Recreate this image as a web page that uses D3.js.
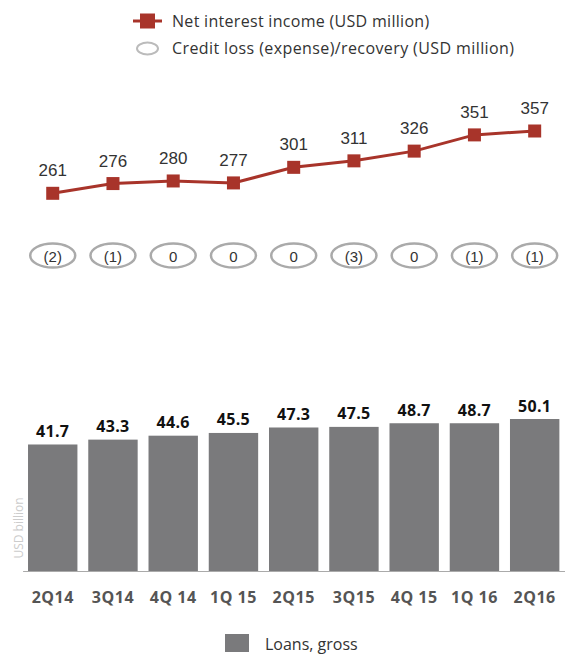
<!DOCTYPE html>
<html>
<head>
<meta charset="utf-8">
<script src="https://cdn.jsdelivr.net/npm/d3@7"></script>
<style>
  body { margin: 0; background: #fff; }
  svg { display: block; }
  text { font-family: "Open Sans", sans-serif; }
</style>
</head>
<body>
<svg id="chart" width="565" height="657"></svg>
<script>
// DATA
const quarters = ["2Q14", "3Q14", "4Q 14", "1Q 15", "2Q15", "3Q15", "4Q 15", "1Q 16", "2Q16"];
const netInterest = [261, 276, 280, 277, 301, 311, 326, 351, 357];
const creditLoss = [-2, -1, 0, 0, 0, -3, 0, -1, -1];
const loansGross = [41.7, 43.3, 44.6, 45.5, 47.3, 47.5, 48.7, 48.7, 50.1];

const svg = d3.select('#chart');
const red = '#a8342a';
const barGrey = '#7a7a7c';

// SHARED X SCALE
const x = d3.scaleBand().domain(quarters).range([22.6, 564.8])
  .paddingInner(0.18).paddingOuter(0.09);
const cx = q => x(q) + x.bandwidth() / 2;

// TOP LEGEND
const leg = svg.append('g');
leg.append('line').attr('x1', 133).attr('x2', 162).attr('y1', 21).attr('y2', 21)
  .attr('stroke', red).attr('stroke-width', 3);
leg.append('rect').attr('x', 140).attr('y', 13.5).attr('width', 15).attr('height', 15).attr('fill', red);
leg.append('text').attr('x', 172).attr('y', 27).attr('font-size', 16).attr('fill', '#333')
  .style('letter-spacing', '0.3px')
  .text('Net interest income (USD million)');
leg.append('ellipse').attr('cx', 147.5).attr('cy', 48.5).attr('rx', 10.5).attr('ry', 6)
  .attr('fill', 'none').attr('stroke', '#bbb').attr('stroke-width', 2);
leg.append('text').attr('x', 172).attr('y', 54).attr('font-size', 16).attr('fill', '#333')
  .style('letter-spacing', '0.4px')
  .text('Credit loss (expense)/recovery (USD million)');

// NET INTEREST INCOME LINE
const yLine = d3.scaleLinear().domain([261, 357]).range([193.3, 131]);
const lineData = quarters.map((q, i) => ({ q: q, v: netInterest[i] }));

const drawLine = d3.line().x(d => cx(d.q)).y(d => yLine(d.v));
svg.append('path').attr('d', drawLine(lineData)).attr('fill', 'none')
  .attr('stroke', red).attr('stroke-width', 3);

svg.selectAll('rect.marker').data(lineData).enter().append('rect')
  .attr('class', 'marker')
  .attr('x', d => cx(d.q) - 6.5).attr('y', d => yLine(d.v) - 6.5)
  .attr('width', 13).attr('height', 13).attr('fill', red);

svg.selectAll('text.nii').data(lineData).enter().append('text')
  .attr('class', 'nii')
  .attr('x', d => cx(d.q)).attr('y', d => yLine(d.v) - 17)
  .attr('text-anchor', 'middle').attr('fill', '#333')
  .style('font-family', '"Liberation Sans", Arial, sans-serif').attr('font-size', 17)
  .text(d => d.v);

// CREDIT LOSS ELLIPSES
const fmtLoss = v => v < 0 ? '(' + (-v) + ')' : String(v);
const lossData = quarters.map((q, i) => ({ q: q, v: creditLoss[i] }));
svg.selectAll('ellipse.loss').data(lossData).enter().append('ellipse')
  .attr('class', 'loss')
  .attr('cx', d => cx(d.q)).attr('cy', 255.5).attr('rx', 22.5).attr('ry', 12)
  .attr('fill', 'none').attr('stroke', '#aaa').attr('stroke-width', 2.5);
svg.selectAll('text.loss').data(lossData).enter().append('text')
  .attr('class', 'loss')
  .attr('x', d => cx(d.q)).attr('y', 261.5)
  .attr('text-anchor', 'middle').attr('fill', '#333')
  .style('font-family', '"Liberation Sans", Arial, sans-serif').attr('font-size', 15)
  .text(d => fmtLoss(d.v));

// LOANS BARS
const yBar = d3.scaleLinear().domain([0, 50.1]).range([571, 419]);
const barData = quarters.map((q, i) => ({ q: q, v: loansGross[i] }));

svg.selectAll('rect.bar').data(barData).enter().append('rect')
  .attr('class', 'bar')
  .attr('x', d => x(d.q)).attr('width', x.bandwidth())
  .attr('y', d => yBar(d.v)).attr('height', d => yBar(0) - yBar(d.v))
  .attr('fill', barGrey);

svg.selectAll('text.bar').data(barData).enter().append('text')
  .attr('class', 'bar')
  .attr('x', d => cx(d.q)).attr('y', d => yBar(d.v) - 7.5)
  .attr('text-anchor', 'middle').attr('fill', '#111')
  .attr('font-size', 16).attr('font-weight', 'bold')
  .style('letter-spacing', '0.3px')
  .text(d => d.v.toFixed(1));

// X AXIS
const xAxis = svg.append('g').attr('transform', 'translate(0,571)')
  .call(d3.axisBottom(x).tickSize(0).tickSizeOuter(0));
xAxis.select('.domain').attr('stroke', '#aaa');
xAxis.selectAll('text').attr('y', 32).attr('dy', null)
  .attr('fill', '#555').attr('font-size', 16).attr('font-weight', 'bold')
  .style('font-family', '"Open Sans", sans-serif').style('letter-spacing', '0.5px');

// Y LABEL
svg.append('text').attr('transform', 'translate(23,528) rotate(-90)')
  .attr('text-anchor', 'middle').attr('fill', '#ccc').attr('font-size', 12)
  .text('USD billion');

// BOTTOM LEGEND
svg.append('rect').attr('x', 225).attr('y', 634).attr('width', 24).attr('height', 18).attr('fill', barGrey);
svg.append('text').attr('x', 265).attr('y', 650).attr('font-size', 16).attr('fill', '#333')
  .text('Loans, gross');
</script>
</body>
</html>
